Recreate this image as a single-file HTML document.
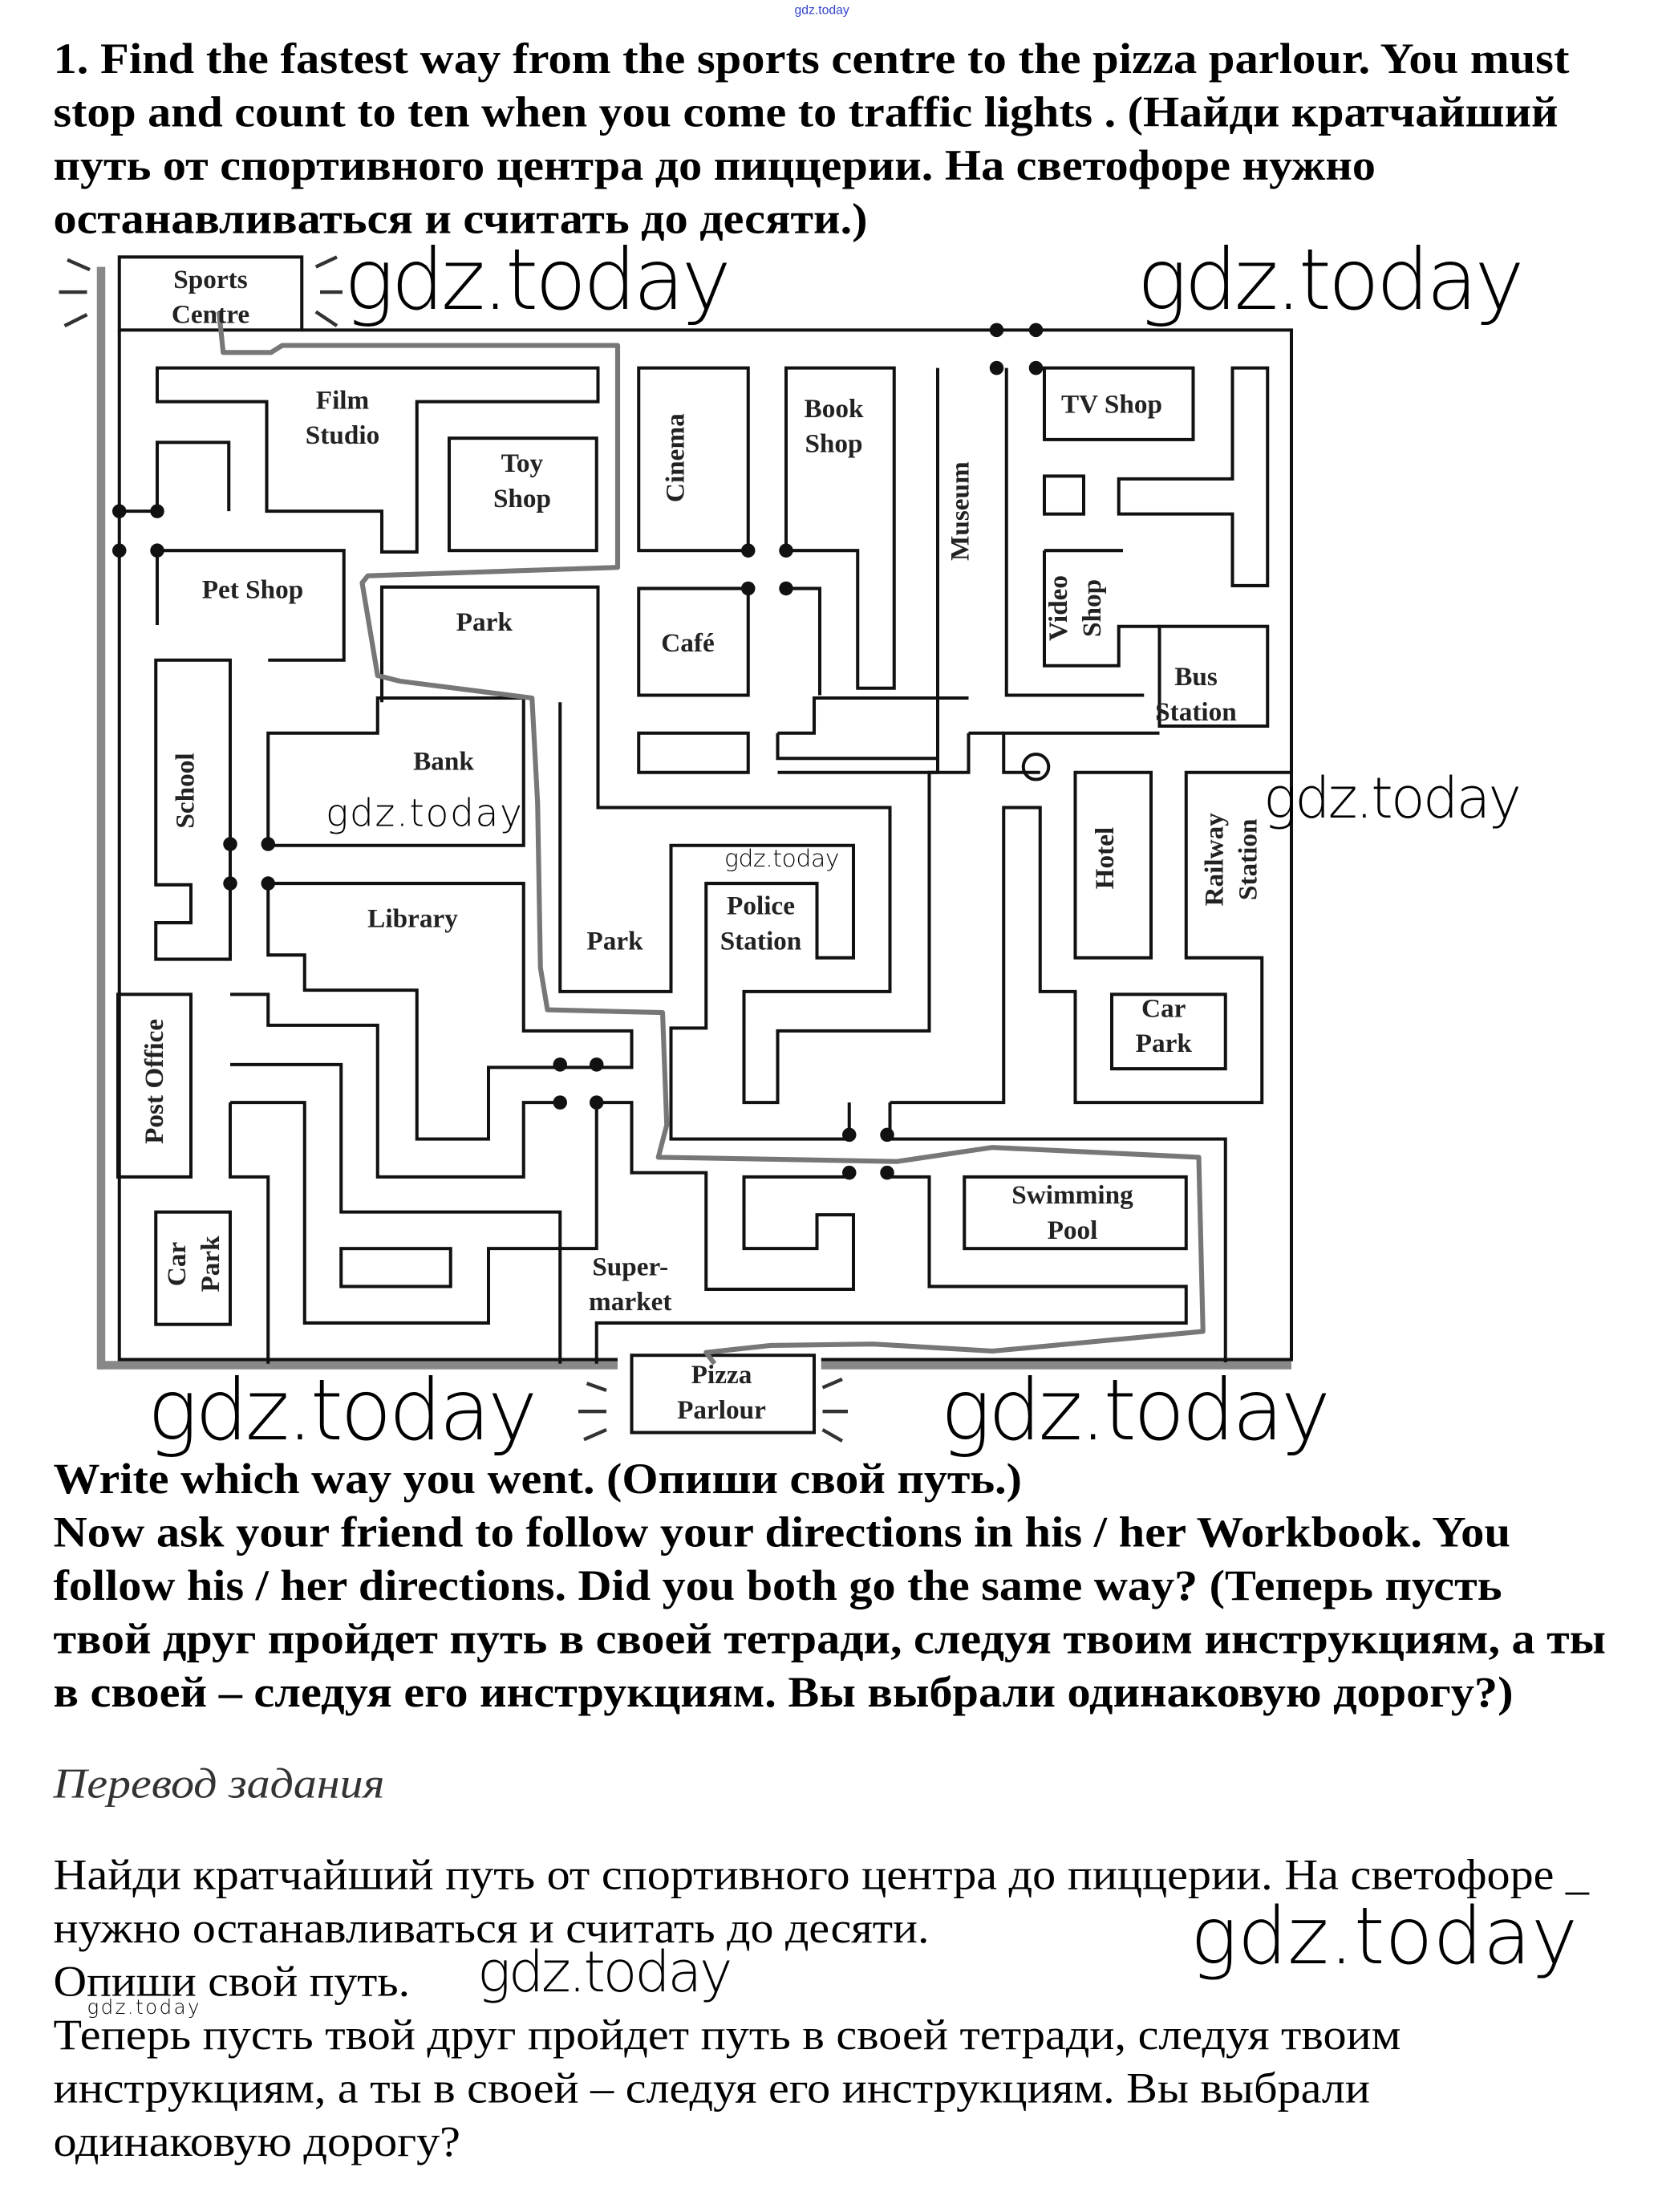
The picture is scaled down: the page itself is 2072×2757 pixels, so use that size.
<!DOCTYPE html>
<html><head><meta charset="utf-8"><style>
html,body{margin:0;padding:0;background:#fff;}
svg{display:block;}
.t{font-family:"Liberation Serif","Noto Serif CJK SC",serif;font-weight:bold;font-size:31px;fill:#000;}
.r{font-family:"Liberation Serif","Noto Serif CJK SC",serif;font-size:31px;fill:#000;}
.i{font-family:"Liberation Serif",serif;font-style:italic;font-size:30px;fill:#333;}
.w{font-family:"DejaVu Sans","Liberation Sans",sans-serif;font-weight:200;fill:#000;}
.m{font-family:"Liberation Serif",serif;font-weight:bold;font-size:19px;fill:#222;}
.wall{fill:none;stroke:#111;stroke-width:2.3;}
</style></head><body>
<svg width="2072" height="2757" viewBox="0 0 1184 1575" preserveAspectRatio="none" xmlns="http://www.w3.org/2000/svg">
<rect width="1184" height="1575" fill="#fff"/>
<text x="566" y="10" font-size="9" fill="#3344cc" font-family="Liberation Sans,sans-serif">gdz.today</text>
<!-- title -->
<text class="t" x="38" y="52" textLength="1080" lengthAdjust="spacingAndGlyphs">1. Find the fastest way from the sports centre to the pizza parlour. You must</text>
<text class="t" x="38" y="90" textLength="1072" lengthAdjust="spacingAndGlyphs">stop and count to ten when you come to traffic lights . (Найди кратчайший</text>
<text class="t" x="38" y="128" textLength="942" lengthAdjust="spacingAndGlyphs">путь от спортивного центра до пиццерии. На светофоре нужно</text>
<text class="t" x="38" y="166" textLength="580" lengthAdjust="spacingAndGlyphs">останавливаться и считать до десяти.)</text>

<!-- maze -->
<g>
<line x1="72" y1="190" x2="72" y2="975" stroke="#888" stroke-width="6"/>
<line x1="70" y1="972" x2="440" y2="972" stroke="#888" stroke-width="6"/>
<line x1="585" y1="972" x2="920" y2="972" stroke="#888" stroke-width="6"/>
<polyline class="wall" points="215,235 920,235 920,968 585,968"/>
<polyline class="wall" points="85,235 85,968 440,968"/>
<rect class="wall" x="85" y="183" width="130" height="52" fill="#fff"/>
<rect class="wall" x="450" y="965" width="130" height="55" fill="#fff"/>
<g stroke="#333" stroke-width="2.5">
<line x1="48" y1="185" x2="64" y2="192"/><line x1="42" y1="208" x2="62" y2="208"/><line x1="46" y1="232" x2="62" y2="224"/>
<line x1="225" y1="190" x2="240" y2="183"/><line x1="228" y1="208" x2="244" y2="208"/><line x1="225" y1="222" x2="240" y2="232"/>
<line x1="418" y1="985" x2="432" y2="990"/><line x1="412" y1="1005" x2="432" y2="1005"/><line x1="416" y1="1025" x2="432" y2="1018"/>
<line x1="586" y1="988" x2="600" y2="982"/><line x1="586" y1="1005" x2="604" y2="1005"/><line x1="586" y1="1018" x2="600" y2="1026"/>
</g>
<polygon class="wall" points="112,262 426,262 426,286 297,286 297,393 272,393 272,364 190,364 190,286 112,286"/>
<rect class="wall" x="320" y="312" width="105" height="80"/>
<polyline class="wall" points="112,364 112,315 163,315 163,364"/>
<polyline class="wall" points="112,364 85,364"/>
<polyline class="wall" points="112,445 112,392 245,392 245,470 191,470"/>
<polyline class="wall" points="272,500 272,418 426,418 426,575 634,575 634,706 530,706 530,785 554,785 554,734 662,734 662,550 690,550 690,522"/>
<rect class="wall" x="455" y="262" width="78" height="130"/>
<polygon class="wall" points="560,392 560,262 637,262 637,490 611,490 611,392"/>
<polyline class="wall" points="533,419 455,419 455,495 533,495 533,419"/>
<polyline class="wall" points="560,419 584,419 584,495"/>
<rect class="wall" x="455" y="522" width="78" height="28"/>
<polyline class="wall" points="668,262 668,540 632,540 554,540 554,522"/>
<polyline class="wall" points="717,262 717,495 815,495"/>
<polyline class="wall" points="668,540 668,550 554,550"/>
<rect class="wall" x="744" y="262" width="106" height="51"/>
<rect class="wall" x="744" y="339" width="28" height="27"/>
<polygon class="wall" points="878,262 903,262 903,417 878,417 878,366 797,366 797,341 878,341"/>
<polyline class="wall" points="744,392 744,474 797,474 797,446 826,446"/>
<rect class="wall" x="826" y="446" width="77" height="71"/>
<polyline class="wall" points="826,522 715,522 715,550 741,550"/>
<polyline class="wall" points="715,522 690,522"/>
<polyline class="wall" points="554,522 580,522 580,497 690,497"/>
<polyline class="wall" points="744,392 800,392"/>
<circle cx="738" cy="546" r="9" class="wall"/>
<polygon class="wall" points="191,522 269,522 269,497 373,497 373,602 191,602"/>
<polygon class="wall" points="164,470 111,470 111,630 136,630 136,657 111,657 111,683 164,683"/>
<polyline class="wall" points="191,629 373,629 373,734 450,734 450,760 348,760 348,811 297,811 297,705 217,705 217,680 191,680 191,629"/>
<polyline class="wall" points="399,500 399,706 478,706 478,602 608,602 608,682 582,682 582,629 503,629 503,732 478,732 478,811 605,811"/>
<polyline class="wall" points="425,785 450,785 450,835 503,835 503,918 608,918 608,865 582,865 582,889 530,889 530,838 605,838"/>
<polyline class="wall" points="634,838 662,838 662,916 845,916 845,942 425,942 425,971"/>
<rect class="wall" x="687" y="838" width="158" height="51"/>
<polyline class="wall" points="634,811 873,811 873,970"/>
<polyline class="wall" points="634,785 715,785 715,575 741,575 741,706 766,706 766,785 899,785 899,682 845,682 845,550 921,550"/>
<rect class="wall" x="766" y="550" width="54" height="132"/>
<rect class="wall" x="792" y="708" width="81" height="53"/>
<line class="wall" x1="605" y1="785" x2="605" y2="811"/>
<line class="wall" x1="634" y1="785" x2="634" y2="811"/>
<rect class="wall" x="84" y="708" width="52" height="130"/>
<rect class="wall" x="111" y="863" width="53" height="80"/>
<polyline class="wall" points="164,708 191,708 191,730 269,730 269,838 373,838 373,785 399,785"/>
<polyline class="wall" points="164,758 243,758 243,863 399,863 399,971"/>
<polyline class="wall" points="164,785 217,785 217,942 348,942 348,889 425,889 425,785"/>
<polyline class="wall" points="164,785 164,838 191,838 191,971"/>
<rect class="wall" x="243" y="889" width="78" height="27"/>
<g fill="#111">
<circle cx="85" cy="364" r="5"/><circle cx="112" cy="364" r="5"/><circle cx="85" cy="392" r="5"/><circle cx="112" cy="392" r="5"/>
<circle cx="533" cy="392" r="5"/><circle cx="560" cy="392" r="5"/><circle cx="533" cy="419" r="5"/><circle cx="560" cy="419" r="5"/>
<circle cx="710" cy="235" r="5"/><circle cx="738" cy="235" r="5"/><circle cx="710" cy="262" r="5"/><circle cx="738" cy="262" r="5"/>
<circle cx="164" cy="601" r="5"/><circle cx="191" cy="601" r="5"/><circle cx="164" cy="629" r="5"/><circle cx="191" cy="629" r="5"/>
<circle cx="399" cy="758" r="5"/><circle cx="425" cy="758" r="5"/><circle cx="399" cy="785" r="5"/><circle cx="425" cy="785" r="5"/>
<circle cx="605" cy="808" r="5"/><circle cx="632" cy="808" r="5"/><circle cx="605" cy="835" r="5"/><circle cx="632" cy="835" r="5"/>
</g>
<polyline fill="none" stroke="#777" stroke-width="3.5" stroke-linejoin="round" points="156,222 159,251 193,251 201,246 440,246 440,404 262,410 258,415 269,481 285,485 379,497 383,572 385,689 390,719 472,721 475,801 469,824 639,827 707,817 854,824 857,948 707,962 622,957 549,958 503,963 509,971"/>
<text class="m" x="150" y="205" text-anchor="middle">Sports</text>
<text class="m" x="150" y="230" text-anchor="middle">Centre</text>
<text class="m" x="244" y="291" text-anchor="middle">Film</text>
<text class="m" x="244" y="316" text-anchor="middle">Studio</text>
<text class="m" x="372" y="336" text-anchor="middle">Toy</text>
<text class="m" x="372" y="361" text-anchor="middle">Shop</text>
<text class="m" x="180" y="426" text-anchor="middle">Pet Shop</text>
<text class="m" x="345" y="449" text-anchor="middle">Park</text>
<text class="m" x="490" y="464" text-anchor="middle">Café</text>
<text class="m" x="594" y="297" text-anchor="middle">Book</text>
<text class="m" x="594" y="322" text-anchor="middle">Shop</text>
<text class="m" x="792" y="294" text-anchor="middle">TV Shop</text>
<text class="m" x="852" y="488" text-anchor="middle">Bus</text>
<text class="m" x="852" y="513" text-anchor="middle">Station</text>
<text class="m" x="316" y="548" text-anchor="middle">Bank</text>
<text class="m" x="294" y="660" text-anchor="middle">Library</text>
<text class="m" x="438" y="676" text-anchor="middle">Park</text>
<text class="m" x="542" y="651" text-anchor="middle">Police</text>
<text class="m" x="542" y="676" text-anchor="middle">Station</text>
<text class="m" x="829" y="724" text-anchor="middle">Car</text>
<text class="m" x="829" y="749" text-anchor="middle">Park</text>
<text class="m" x="764" y="857" text-anchor="middle">Swimming</text>
<text class="m" x="764" y="882" text-anchor="middle">Pool</text>
<text class="m" x="449" y="908" text-anchor="middle">Super-</text>
<text class="m" x="449" y="933" text-anchor="middle">market</text>
<text class="m" x="514" y="985" text-anchor="middle">Pizza</text>
<text class="m" x="514" y="1010" text-anchor="middle">Parlour</text>
<text class="m" transform="translate(487,326) rotate(-90)" text-anchor="middle">Cinema</text>
<text class="m" transform="translate(690,364) rotate(-90)" text-anchor="middle">Museum</text>
<text class="m" transform="translate(760,433) rotate(-90)" text-anchor="middle">Video</text>
<text class="m" transform="translate(784,433) rotate(-90)" text-anchor="middle">Shop</text>
<text class="m" transform="translate(138,563) rotate(-90)" text-anchor="middle">School</text>
<text class="m" transform="translate(793,611) rotate(-90)" text-anchor="middle">Hotel</text>
<text class="m" transform="translate(871,612) rotate(-90)" text-anchor="middle">Railway</text>
<text class="m" transform="translate(895,612) rotate(-90)" text-anchor="middle">Station</text>
<text class="m" transform="translate(116,770) rotate(-90)" text-anchor="middle">Post Office</text>
<text class="m" transform="translate(132,900) rotate(-90)" text-anchor="middle">Car</text>
<text class="m" transform="translate(156,900) rotate(-90)" text-anchor="middle">Park</text>
</g>

<text class="w" x="245" y="220" font-size="60" textLength="276">gdz.today</text>
<text class="w" x="810" y="220" font-size="60" textLength="276">gdz.today</text>
<text class="w" x="232" y="588" font-size="27" textLength="140">gdz.today</text>
<text class="w" x="516" y="617" font-size="17" textLength="82">gdz.today</text>
<text class="w" x="900" y="582" font-size="40" textLength="184">gdz.today</text>
<text class="w" x="105" y="1025" font-size="60" textLength="278">gdz.today</text>
<text class="w" x="670" y="1025" font-size="60" textLength="278">gdz.today</text>

<text class="t" x="38" y="1063" textLength="690" lengthAdjust="spacingAndGlyphs">Write which way you went. (Опиши свой путь.)</text>
<text class="t" x="38" y="1101" textLength="1038" lengthAdjust="spacingAndGlyphs">Now ask your friend to follow your directions in his / her Workbook. You</text>
<text class="t" x="38" y="1139" textLength="1032" lengthAdjust="spacingAndGlyphs">follow his / her directions. Did you both go the same way? (Теперь пусть</text>
<text class="t" x="38" y="1177" textLength="1106" lengthAdjust="spacingAndGlyphs">твой друг пройдет путь в своей тетради, следуя твоим инструкциям, а ты</text>
<text class="t" x="38" y="1215" textLength="1040" lengthAdjust="spacingAndGlyphs">в своей – следуя его инструкциям. Вы выбрали одинаковую дорогу?)</text>
<text class="i" x="38" y="1280" textLength="236" lengthAdjust="spacingAndGlyphs">Перевод задания</text>
<text class="r" x="38" y="1345" textLength="1094" lengthAdjust="spacingAndGlyphs">Найди кратчайший путь от спортивного центра до пиццерии. На светофоре _</text>
<text class="r" x="38" y="1383" textLength="624" lengthAdjust="spacingAndGlyphs">нужно останавливаться и считать до десяти.</text>
<text class="r" x="38" y="1421" textLength="254" lengthAdjust="spacingAndGlyphs">Опиши свой путь.</text>
<text class="r" x="38" y="1459" textLength="960" lengthAdjust="spacingAndGlyphs">Теперь пусть твой друг пройдет путь в своей тетради, следуя твоим</text>
<text class="r" x="38" y="1497" textLength="938" lengthAdjust="spacingAndGlyphs">инструкциям, а ты в своей – следуя его инструкциям. Вы выбрали</text>
<text class="r" x="38" y="1535" textLength="290" lengthAdjust="spacingAndGlyphs">одинаковую дорогу?</text>
<text class="w" x="848" y="1398" font-size="56" textLength="276">gdz.today</text>
<text class="w" x="340" y="1418" font-size="40" textLength="182">gdz.today</text>
<text class="w" x="62" y="1434" font-size="14" textLength="80">gdz.today</text>
</svg>
</body></html>
